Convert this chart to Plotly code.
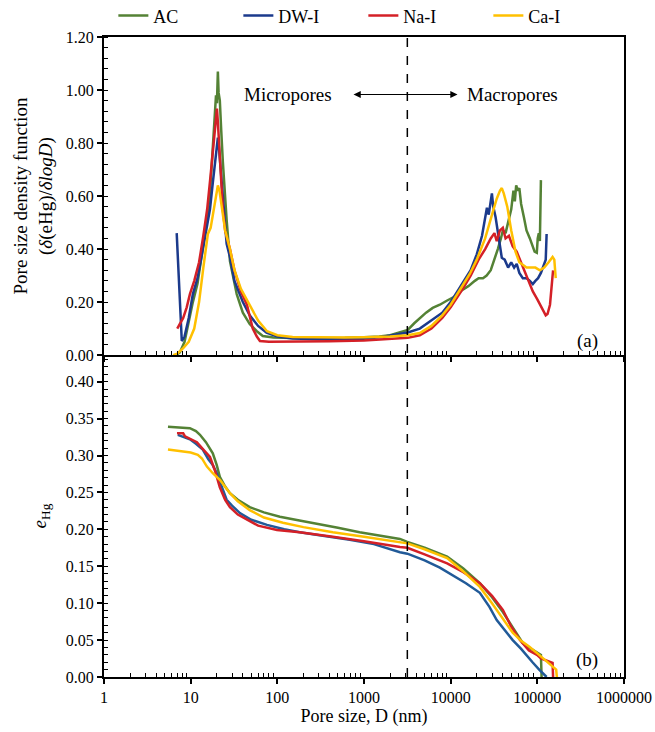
import math
import plotly.graph_objects as go

# ---------------- data ----------------
series_names = ["AC", "DW-I", "Na-I", "Ca-I"]
colors_top = ["#548235", "#1B3A8C", "#D42027", "#FFC000"]
colors_bot = ["#548235", "#215A98", "#D42027", "#FFC000"]

# (a) pore size density function
psd_ac_x = [6.8, 7.5, 8.5, 10, 10.6, 12, 12.8, 14.5, 16.7, 18, 19, 19.6, 20.1, 20.6, 21, 21.7, 22.5, 23.5, 26, 28.4,
            34, 40, 48, 58, 68, 90, 150, 300, 600, 1000, 1500, 2000, 2600, 3200, 3800, 4400, 5200, 6200, 7500, 9000,
            11000, 13500, 16000, 19000, 21000, 23600, 26000, 29000, 32000, 35000, 38000, 40000, 43000, 46000, 50000,
            53000, 55000, 57000, 59600, 62000, 65000, 70000, 75000, 82000, 88000, 93000, 98600, 101000, 104000, 107000,
            110000]
psd_ac_y = [0.0, 0.01, 0.05, 0.16, 0.20, 0.27, 0.33, 0.45, 0.61, 0.78, 0.92, 0.98, 0.95, 1.07, 0.99, 0.96, 0.85, 0.73,
            0.51, 0.355, 0.23, 0.16, 0.117, 0.09, 0.072, 0.066, 0.064, 0.064, 0.065, 0.067, 0.07, 0.075, 0.085, 0.095,
            0.12, 0.14, 0.16, 0.178, 0.19, 0.205, 0.22, 0.245, 0.26, 0.28, 0.29, 0.29, 0.30, 0.32, 0.36, 0.40, 0.44,
            0.47, 0.46, 0.50, 0.55, 0.62, 0.58, 0.64, 0.62, 0.63, 0.57, 0.52, 0.47, 0.44, 0.41, 0.39, 0.386, 0.44, 0.46,
            0.43, 0.66]

psd_dw_x = [6.9, 7.3, 7.7, 7.9, 8.5, 9.5, 10.6, 12, 13.5, 15, 16.7, 18, 19, 20, 20.6, 21, 21.7, 23, 24.5, 26, 28.4, 32,
            40, 48, 60, 75, 100, 150, 300, 600, 1000, 1600, 2200, 3200, 4400, 6000, 8000, 10000, 12000, 13800, 17000,
            20000, 23000, 26200, 27500, 29900, 31000, 33000, 36000, 38900, 42000, 46000, 50000, 54000, 57800, 62000,
            68000, 75000, 82000, 88700, 95000, 102000, 110000, 115000, 125000, 128000]
psd_dw_y = [0.46, 0.30, 0.12, 0.053, 0.07, 0.14, 0.23, 0.29, 0.38, 0.47, 0.55, 0.65, 0.72, 0.78, 0.82, 0.80, 0.74, 0.62,
            0.50, 0.42, 0.37, 0.28, 0.20, 0.15, 0.11, 0.085, 0.07, 0.063, 0.06, 0.06, 0.062, 0.068, 0.075, 0.085, 0.10,
            0.13, 0.16, 0.20, 0.24, 0.27, 0.32, 0.38, 0.45, 0.556, 0.53, 0.61, 0.56, 0.52, 0.44, 0.367, 0.36, 0.33, 0.35,
            0.33, 0.344, 0.31, 0.29, 0.29, 0.28, 0.268, 0.28, 0.29, 0.31, 0.33, 0.36, 0.457]

psd_na_x = [7.0, 7.5, 8.2, 9.0, 9.8, 11, 12.5, 14, 15.5, 17, 18.5, 19.5, 20.1, 20.6, 21.2, 22, 23.5, 25, 28.4, 32, 38,
            44.6, 52, 58, 63, 80, 150, 400, 1000, 2000, 3200, 4400, 6000, 8000, 10000, 13800, 17000, 21000, 25000,
            29000, 32000, 34000, 37000, 40000, 43000, 47000, 52000, 57800, 63000, 70000, 78000, 88700, 100000, 112000,
            125000, 131000, 140000, 150000, 152000]
psd_na_y = [0.10, 0.12, 0.14, 0.18, 0.23, 0.28, 0.35, 0.45, 0.55, 0.68, 0.82, 0.90, 0.93, 0.88, 0.80, 0.70, 0.55, 0.47,
            0.40, 0.32, 0.24, 0.19, 0.10, 0.07, 0.053, 0.05, 0.05, 0.052, 0.055, 0.06, 0.065, 0.075, 0.10, 0.14, 0.18,
            0.25, 0.30, 0.36, 0.40, 0.44, 0.46, 0.43, 0.47, 0.48, 0.44, 0.45, 0.41, 0.39, 0.36, 0.32, 0.28, 0.24, 0.21,
            0.18, 0.15, 0.155, 0.19, 0.30, 0.32]

psd_ca_x = [6.25, 7, 8.2, 9.5, 11, 12.5, 14, 15.8, 17, 18.5, 19.5, 20.6, 21.5, 23, 25, 28.4, 32, 38, 44, 50, 60, 76,
            100, 150, 300, 600, 1000, 2000, 3200, 4400, 6000, 8000, 10000, 13000, 16600, 20000, 25000, 30000, 34000,
            37000, 38900, 41000, 45000, 50000, 56000, 62000, 67700, 75000, 85000, 95000, 107000, 120000, 135000,
            150000, 157000, 163000]
psd_ca_y = [0.0, 0.005, 0.026, 0.05, 0.10, 0.20, 0.33, 0.457, 0.48, 0.55, 0.60, 0.64, 0.62, 0.55, 0.47, 0.40, 0.32,
            0.25, 0.21, 0.18, 0.13, 0.09, 0.075, 0.068, 0.066, 0.066, 0.067, 0.07, 0.075, 0.083, 0.11, 0.15, 0.19,
            0.25, 0.306, 0.36, 0.44, 0.53, 0.59, 0.62, 0.63, 0.61, 0.56, 0.47, 0.39, 0.35, 0.34, 0.33, 0.33, 0.33,
            0.32, 0.33, 0.35, 0.37, 0.36, 0.29]

# (b) cumulative e_Hg
ehg_ac_x = [5.47, 9.8, 11.5, 12.8, 15, 18, 20, 21.7, 25, 28.4, 35, 48, 70, 107, 180, 310, 500, 890, 1520, 2600, 3162,
            5000, 9100, 14000, 21700, 30000, 40000, 52000, 67800, 85000, 99000, 110000, 112000]
ehg_ac_y = [0.339, 0.337, 0.333, 0.328, 0.318, 0.303, 0.287, 0.271, 0.258, 0.249, 0.240, 0.230, 0.223, 0.217, 0.212,
            0.207, 0.202, 0.196, 0.192, 0.187, 0.183, 0.175, 0.163, 0.147, 0.127, 0.108, 0.088, 0.068, 0.046, 0.038,
            0.033, 0.030, 0.0]

ehg_dw_x = [7.1, 8, 9.8, 11.5, 13.8, 16, 18, 20, 23, 26, 30, 37, 50, 76, 120, 181, 350, 685, 1300, 2600, 3162, 5000,
            7500, 10600, 15000, 21700, 28000, 34000, 42000, 52000, 65000, 78000, 88000, 105000, 128000]
ehg_dw_y = [0.328, 0.326, 0.322, 0.316, 0.308, 0.295, 0.287, 0.276, 0.257, 0.240, 0.232, 0.222, 0.213, 0.206, 0.200,
            0.196, 0.191, 0.186, 0.180, 0.169, 0.167, 0.158, 0.148, 0.138, 0.127, 0.114, 0.095, 0.077, 0.064, 0.050,
            0.038, 0.028, 0.020, 0.010, 0.0]

ehg_na_x = [6.95, 8.2, 8.6, 10, 11.8, 14, 16.7, 19, 21.7, 25, 28.4, 35, 44.6, 60, 99, 181, 437, 1000, 2600, 3162, 5000,
            9100, 14000, 21700, 30000, 40000, 50000, 63000, 80000, 99000, 110000, 130000, 150000, 152000]
ehg_na_y = [0.330, 0.330, 0.326, 0.322, 0.318, 0.308, 0.298, 0.280, 0.257, 0.240, 0.230, 0.220, 0.213, 0.205, 0.199,
            0.196, 0.190, 0.184, 0.176, 0.175, 0.166, 0.154, 0.142, 0.127, 0.110, 0.091, 0.068, 0.050, 0.036, 0.030,
            0.025, 0.022, 0.019, 0.0]

ehg_ca_x = [5.47, 8.2, 10, 12.1, 13.5, 15.4, 18, 21.7, 25, 28.4, 35, 48, 70, 116, 200, 437, 1000, 2600, 3162, 5000,
            9100, 14000, 21700, 30000, 40000, 52000, 65000, 81000, 100000, 120000, 150000, 165000, 168000]
ehg_ca_y = [0.308, 0.306, 0.304, 0.301, 0.296, 0.285, 0.276, 0.267, 0.257, 0.249, 0.238, 0.226, 0.216, 0.209, 0.203,
            0.196, 0.190, 0.182, 0.181, 0.173, 0.161, 0.143, 0.122, 0.100, 0.079, 0.060, 0.049, 0.041, 0.032, 0.024,
            0.014, 0.010, 0.0]

x_tickvals = [1, 10, 100, 1000, 10000, 100000, 1000000]
x_ticktext = ["1", "10", "100", "1000", "10000", "100000", "1000000"]
y_top_ticks = [0, 0.2, 0.4, 0.6, 0.8, 1.0, 1.2]
y_bot_ticks = [0, 0.05, 0.1, 0.15, 0.2, 0.25, 0.3, 0.35, 0.4]
boundary_size = 3162  # micro/macro boundary (nm)

psd_x = [psd_ac_x, psd_dw_x, psd_na_x, psd_ca_x]
psd_y = [psd_ac_y, psd_dw_y, psd_na_y, psd_ca_y]
ehg_x = [ehg_ac_x, ehg_dw_x, ehg_na_x, ehg_ca_x]
ehg_y = [ehg_ac_y, ehg_dw_y, ehg_na_y, ehg_ca_y]

# minor tick positions (axis decoration)
x_minor = [m * 10 ** d for d in range(6) for m in range(2, 10)]
y_top_minor = [round(i * 0.04, 2) for i in range(31)]
y_bot_minor = [round(i * 0.01, 2) for i in range(44)]

# ---------------- figure ----------------
FONT = "Liberation Serif, Times New Roman, serif"
fig = go.Figure()

for i, name in enumerate(series_names):
    fig.add_trace(go.Scatter(x=psd_x[i], y=psd_y[i], mode="lines", name=name,
                             line=dict(color=colors_top[i], width=2.5),
                             xaxis="x", yaxis="y", showlegend=True))
for i, name in enumerate(series_names):
    fig.add_trace(go.Scatter(x=ehg_x[i], y=ehg_y[i], mode="lines", name=name,
                             line=dict(color=colors_bot[i], width=2.5),
                             xaxis="x2", yaxis="y2", showlegend=False))

split = 0.503
tickfont = dict(family=FONT, size=16, color="black")
common_x = dict(type="log", range=[0, 6], showline=True, linecolor="black", linewidth=2,
                ticks="outside", ticklen=5, tickwidth=1.5, tickcolor="black",
                tickvals=x_tickvals, ticktext=x_ticktext, automargin=False,
                minor=dict(ticks="inside", ticklen=4, tickwidth=1, tickcolor="black", tickvals=x_minor,
                           showgrid=False),
                showgrid=False, zeroline=False, tickfont=tickfont)
common_y = dict(showline=True, linecolor="black", linewidth=2, mirror=True, automargin=False,
                ticks="outside", ticklen=5, tickwidth=1.5, tickcolor="black",
                showgrid=False, zeroline=False, tickfont=tickfont, tickformat=".2f")

fig.update_layout(
    width=655, height=732,
    margin=dict(l=104, r=31, t=37, b=55, autoexpand=False),
    plot_bgcolor="white", paper_bgcolor="white",
    font=dict(family=FONT, size=16, color="black"),
    xaxis=dict(common_x, anchor="y", domain=[0, 1], showticklabels=False, mirror=True),
    xaxis2=dict(common_x, anchor="y2", domain=[0, 1], matches="x",
                title=dict(text="Pore size, D (nm)", font=dict(family=FONT, size=18), standoff=4)),
    yaxis=dict(common_y, domain=[split, 1], range=[0, 1.2], tickvals=y_top_ticks,
               minor=dict(ticks="inside", ticklen=4, tickwidth=1, tickcolor="black", tickvals=y_top_minor,
                          showgrid=False),
               title=dict(text="Pore size density function<br>(<i>δ</i>(eHg)/<i>δlogD</i>)",
                          font=dict(family=FONT, size=19), standoff=8)),
    yaxis2=dict(common_y, domain=[0, split], range=[0, 0.436], tickvals=y_bot_ticks,
                minor=dict(ticks="inside", ticklen=4, tickwidth=1, tickcolor="black", tickvals=y_bot_minor,
                           showgrid=False),
                title=dict(text="<i>e</i><sub>Hg</sub>", font=dict(family=FONT, size=19), standoff=14)),
    legend=dict(orientation="h", x=0.018, xanchor="left", y=1.062, yanchor="top",
                font=dict(family=FONT, size=18, color="black"),
                entrywidth=80, entrywidthmode="pixels", bgcolor="rgba(0,0,0,0)",
                borderwidth=0, tracegroupgap=0),
    showlegend=True,
)

# dashed boundary line across both panels
fig.add_shape(type="line", xref="x", yref="paper", x0=boundary_size, x1=boundary_size, y0=0, y1=1,
              line=dict(color="black", width=1.5, dash="dash"))

fig.add_annotation(x=math.log10(132), y=0.983, xref="x", yref="y", text="Micropores", showarrow=False,
                   font=dict(family=FONT, size=19, color="black"))
fig.add_annotation(x=math.log10(52000), y=0.983, xref="x", yref="y", text="Macropores", showarrow=False,
                   font=dict(family=FONT, size=19, color="black"))
fig.add_annotation(x=math.log10(12000), y=0.983, ax=math.log10(690), ay=0.983, xref="x", yref="y",
                   axref="x", ayref="y", text=" ", showarrow=True, arrowhead=2, startarrowhead=2,
                   arrowside="end+start", arrowsize=1.2, arrowwidth=1.2, arrowcolor="black")
fig.add_annotation(x=0.954, y=0.053, xref="paper", yref="y", text="(a)", showarrow=False,
                   font=dict(family=FONT, size=19, color="black"))
fig.add_annotation(x=0.954, y=0.023, xref="paper", yref="y2", text="(b)", showarrow=False,
                   font=dict(family=FONT, size=19, color="black"))

fig.write_html("out.html")
